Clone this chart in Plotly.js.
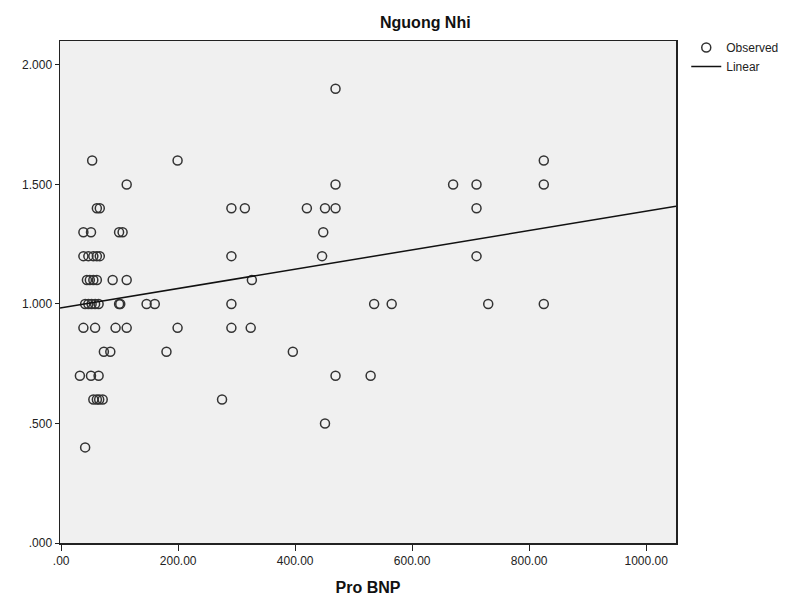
<!DOCTYPE html>
<html><head><meta charset="utf-8">
<script src="https://cdn.plot.ly/plotly-3.0.1.min.js"></script>
<style>html,body{margin:0;padding:0;background:#fff}</style>
</head><body>
<div id="chart" style="width:795px;height:596px"></div>
<script>
// Observed values (Pro BNP, Nguong Nhi)
const proBNP = [
  469,
  199, 53, 825,
  469, 112, 670, 710, 825,
  291, 314, 420, 451, 469, 61, 66, 710,
  448, 38, 51, 99, 105,
  291, 446, 38, 46.5, 55, 61, 66, 710,
  326, 44, 49, 55, 61, 88, 112,
  291, 535, 41, 46.5, 52, 58, 64, 99, 101, 146, 160, 565, 730, 825,
  291, 324, 38, 58, 93, 112, 199,
  396, 73, 84, 180,
  469, 529, 32, 51, 64,
  275, 55, 61, 65, 71,
  451,
  41
];
const nguongNhi = [
  1.9,
  1.6, 1.6, 1.6,
  1.5, 1.5, 1.5, 1.5, 1.5,
  1.4, 1.4, 1.4, 1.4, 1.4, 1.4, 1.4, 1.4,
  1.3, 1.3, 1.3, 1.3, 1.3,
  1.2, 1.2, 1.2, 1.2, 1.2, 1.2, 1.2, 1.2,
  1.1, 1.1, 1.1, 1.1, 1.1, 1.1, 1.1,
  1.0, 1.0, 1.0, 1.0, 1.0, 1.0, 1.0, 1.0, 1.0, 1.0, 1.0, 1.0, 1.0, 1.0,
  0.9, 0.9, 0.9, 0.9, 0.9, 0.9, 0.9,
  0.8, 0.8, 0.8, 0.8,
  0.7, 0.7, 0.7, 0.7, 0.7,
  0.6, 0.6, 0.6, 0.6, 0.6,
  0.5,
  0.4
];
const xTickVals = [0, 200, 400, 600, 800, 1000];
const xTickText = ['.00', '200.00', '400.00', '600.00', '800.00', '1000.00'];
const yTickVals = [0, 0.5, 1, 1.5, 2];
const yTickText = ['.000', '.500', '1.000', '1.500', '2.000'];
const xRange = [-2, 1051];
const yRange = [0, 2.1];

// Linear fit (least squares)
const n = proBNP.length;
const mx = proBNP.reduce((a, b) => a + b, 0) / n;
const my = nguongNhi.reduce((a, b) => a + b, 0) / n;
let sxy = 0, sxx = 0;
for (let i = 0; i < n; i++) { sxy += (proBNP[i] - mx) * (nguongNhi[i] - my); sxx += (proBNP[i] - mx) ** 2; }
const slope = sxy / sxx;
const intercept = my - slope * mx;
const fitX = [xRange[0], xRange[1]];
const fitY = fitX.map(x => intercept + slope * x);

const fam = 'Liberation Sans, Arial, sans-serif';
const axisFont = {family: fam, size: 12, color: '#222'};
const traces = [
  {x: proBNP, y: nguongNhi, type: 'scatter', mode: 'markers', name: 'Observed',
   marker: {symbol: 'circle-open', size: 9, color: '#333', line: {width: 1.5, color: '#333'}}},
  {x: fitX, y: fitY, type: 'scatter', mode: 'lines', name: 'Linear',
   line: {color: '#111', width: 1.5}}
];
const layout = {
  width: 795, height: 596,
  margin: {l: 60, r: 118, t: 41, b: 53},
  paper_bgcolor: '#ffffff', plot_bgcolor: '#f0f0f0',
  font: axisFont,
  title: {text: '<b>Nguong Nhi</b>', font: {family: fam, size: 16, color: '#111'},
          xref: 'container', x: 0.535, xanchor: 'center', yref: 'container', y: 0.963, yanchor: 'middle'},
  xaxis: {range: xRange, tickvals: xTickVals, ticktext: xTickText, showgrid: false, zeroline: false,
          showline: true, linecolor: '#222', linewidth: 1.5, mirror: true, ticks: 'outside', ticklen: 6,
          tickcolor: '#222', tickfont: axisFont,
          title: {text: '<b>Pro BNP</b>', font: {family: fam, size: 16, color: '#111'}, standoff: 16}},
  yaxis: {range: yRange, tickvals: yTickVals, ticktext: yTickText, showgrid: false, zeroline: false,
          showline: true, linecolor: '#222', linewidth: 1.5, mirror: true, ticks: 'outside', ticklen: 4,
          tickcolor: '#222', tickfont: axisFont},
  showlegend: true,
  legend: {x: 1.015, y: 1.016, xanchor: 'left', yanchor: 'top', bgcolor: 'rgba(0,0,0,0)',
           font: {family: fam, size: 12, color: '#222'},
           tracegroupgap: 0, itemwidth: 30}
};
Plotly.newPlot('chart', traces, layout, {displayModeBar: false, staticPlot: true});
</script>
</body></html>
